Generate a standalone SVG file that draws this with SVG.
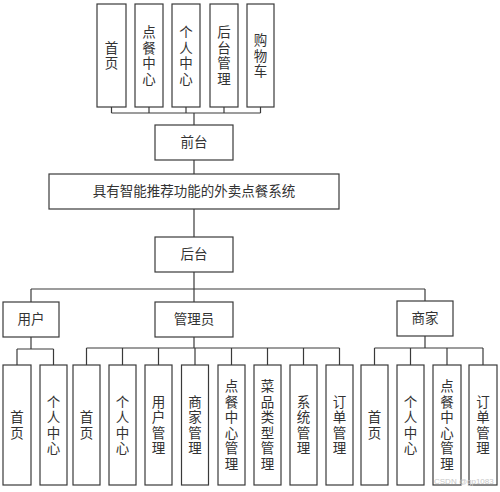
<svg xmlns="http://www.w3.org/2000/svg" width="500" height="492" viewBox="0 0 500 492">
<style>
rect{fill:#fff;stroke:#3a3a3a;stroke-width:1.2}
text{font-family:"Liberation Sans","Noto Sans CJK SC",sans-serif;font-size:13.5px;fill:#333;text-anchor:middle;dominant-baseline:central}
.c line{stroke:#3a3a3a;stroke-width:1.2;fill:none}
.wm{font-family:"Liberation Sans",sans-serif;font-size:8px;fill:#c8c8c8;text-anchor:start;dominant-baseline:auto}
</style>
<rect x="0" y="0" width="500" height="492" style="fill:#fff;stroke:none"/>
<g class="c" id="connectors">
<line x1="111.5" y1="107" x2="111.5" y2="113"/><line x1="149" y1="107" x2="149" y2="113"/><line x1="186" y1="107" x2="186" y2="113"/><line x1="224" y1="107" x2="224" y2="113"/><line x1="260.5" y1="107" x2="260.5" y2="113"/>
<line x1="111.5" y1="113" x2="260.5" y2="113"/>
<line x1="194" y1="113" x2="194" y2="125"/>
<line x1="194" y1="160" x2="194" y2="174"/>
<line x1="194" y1="209" x2="194" y2="237"/>
<line x1="194" y1="272" x2="194" y2="289"/>
<line x1="31" y1="289" x2="425" y2="289"/>
<line x1="31" y1="289" x2="31" y2="302"/><line x1="194" y1="289" x2="194" y2="302"/><line x1="425" y1="289" x2="425" y2="301"/>
<line x1="31" y1="337" x2="31" y2="349"/>
<line x1="17" y1="349" x2="53.5" y2="349"/>
<line x1="17" y1="349" x2="17" y2="365"/><line x1="53.5" y1="349" x2="53.5" y2="365"/>
<line x1="194" y1="337" x2="194" y2="348"/>
<line x1="86.5" y1="348" x2="339.5" y2="348"/>
<line x1="86.5" y1="348" x2="86.5" y2="365"/><line x1="122.5" y1="348" x2="122.5" y2="365"/><line x1="158.5" y1="348" x2="158.5" y2="365"/><line x1="195" y1="348" x2="195" y2="365"/><line x1="231.5" y1="348" x2="231.5" y2="365"/><line x1="267.5" y1="348" x2="267.5" y2="365"/><line x1="303.5" y1="348" x2="303.5" y2="365"/><line x1="339.5" y1="348" x2="339.5" y2="365"/>
<line x1="425" y1="336" x2="425" y2="348"/>
<line x1="374.5" y1="348" x2="483" y2="348"/>
<line x1="374.5" y1="348" x2="374.5" y2="365"/><line x1="410.5" y1="348" x2="410.5" y2="365"/><line x1="447" y1="348" x2="447" y2="365"/><line x1="483" y1="348" x2="483" y2="365"/>
</g>
<g id="t1"><rect x="97" y="4" width="29" height="103"/><text><tspan x="111.5" y="47.75">首</tspan><tspan x="111.5" y="63.25">页</tspan></text></g>
<g id="t2"><rect x="135" y="4" width="28" height="103"/><text><tspan x="149" y="32.25">点</tspan><tspan x="149" y="47.75">餐</tspan><tspan x="149" y="63.25">中</tspan><tspan x="149" y="78.75">心</tspan></text></g>
<g id="t3"><rect x="172" y="4" width="28" height="103"/><text><tspan x="186" y="32.25">个</tspan><tspan x="186" y="47.75">人</tspan><tspan x="186" y="63.25">中</tspan><tspan x="186" y="78.75">心</tspan></text></g>
<g id="t4"><rect x="210" y="4" width="28" height="103"/><text><tspan x="224" y="32.25">后</tspan><tspan x="224" y="47.75">台</tspan><tspan x="224" y="63.25">管</tspan><tspan x="224" y="78.75">理</tspan></text></g>
<g id="t5"><rect x="247" y="4" width="27" height="103"/><text><tspan x="260.5" y="40">购</tspan><tspan x="260.5" y="55.5">物</tspan><tspan x="260.5" y="71">车</tspan></text></g>
<g id="qiantai"><rect x="155" y="125" width="78" height="35"/><text x="194" y="142.5">前台</text></g>
<g id="system"><rect x="49" y="174" width="290" height="35"/><text x="194" y="191.5">具有智能推荐功能的外卖点餐系统</text></g>
<g id="houtai"><rect x="155" y="237" width="78" height="35"/><text x="194" y="254.5">后台</text></g>
<g id="yonghu"><rect x="3" y="302" width="56" height="35"/><text x="31" y="319.5">用户</text></g>
<g id="guanliyuan"><rect x="155" y="302" width="78" height="35"/><text x="194" y="319.5">管理员</text></g>
<g id="shangjia"><rect x="397" y="301" width="56" height="35"/><text x="425" y="318.5">商家</text></g>
<g id="u1"><rect x="3" y="365" width="28" height="120"/><text><tspan x="17" y="417.25">首</tspan><tspan x="17" y="432.75">页</tspan></text></g>
<g id="u2"><rect x="40" y="365" width="27" height="120"/><text><tspan x="53.5" y="401.75">个</tspan><tspan x="53.5" y="417.25">人</tspan><tspan x="53.5" y="432.75">中</tspan><tspan x="53.5" y="448.25">心</tspan></text></g>
<g id="a1"><rect x="73" y="365" width="27" height="120"/><text><tspan x="86.5" y="417.25">首</tspan><tspan x="86.5" y="432.75">页</tspan></text></g>
<g id="a2"><rect x="109" y="365" width="27" height="120"/><text><tspan x="122.5" y="401.75">个</tspan><tspan x="122.5" y="417.25">人</tspan><tspan x="122.5" y="432.75">中</tspan><tspan x="122.5" y="448.25">心</tspan></text></g>
<g id="a3"><rect x="145" y="365" width="27" height="120"/><text><tspan x="158.5" y="401.75">用</tspan><tspan x="158.5" y="417.25">户</tspan><tspan x="158.5" y="432.75">管</tspan><tspan x="158.5" y="448.25">理</tspan></text></g>
<g id="a4"><rect x="181.5" y="365" width="27" height="120"/><text><tspan x="195" y="401.75">商</tspan><tspan x="195" y="417.25">家</tspan><tspan x="195" y="432.75">管</tspan><tspan x="195" y="448.25">理</tspan></text></g>
<g id="a5"><rect x="218" y="365" width="27" height="120"/><text><tspan x="231.5" y="386.25">点</tspan><tspan x="231.5" y="401.75">餐</tspan><tspan x="231.5" y="417.25">中</tspan><tspan x="231.5" y="432.75">心</tspan><tspan x="231.5" y="448.25">管</tspan><tspan x="231.5" y="463.75">理</tspan></text></g>
<g id="a6"><rect x="254" y="365" width="27" height="120"/><text><tspan x="267.5" y="386.25">菜</tspan><tspan x="267.5" y="401.75">品</tspan><tspan x="267.5" y="417.25">类</tspan><tspan x="267.5" y="432.75">型</tspan><tspan x="267.5" y="448.25">管</tspan><tspan x="267.5" y="463.75">理</tspan></text></g>
<g id="a7"><rect x="290" y="365" width="27" height="120"/><text><tspan x="303.5" y="401.75">系</tspan><tspan x="303.5" y="417.25">统</tspan><tspan x="303.5" y="432.75">管</tspan><tspan x="303.5" y="448.25">理</tspan></text></g>
<g id="a8"><rect x="326" y="365" width="27" height="120"/><text><tspan x="339.5" y="401.75">订</tspan><tspan x="339.5" y="417.25">单</tspan><tspan x="339.5" y="432.75">管</tspan><tspan x="339.5" y="448.25">理</tspan></text></g>
<g id="s1"><rect x="361" y="365" width="27" height="120"/><text><tspan x="374.5" y="417.25">首</tspan><tspan x="374.5" y="432.75">页</tspan></text></g>
<g id="s2"><rect x="397" y="365" width="27" height="120"/><text><tspan x="410.5" y="401.75">个</tspan><tspan x="410.5" y="417.25">人</tspan><tspan x="410.5" y="432.75">中</tspan><tspan x="410.5" y="448.25">心</tspan></text></g>
<g id="s3"><rect x="433" y="365" width="28" height="120"/><text><tspan x="447" y="386.25">点</tspan><tspan x="447" y="401.75">餐</tspan><tspan x="447" y="417.25">中</tspan><tspan x="447" y="432.75">心</tspan><tspan x="447" y="448.25">管</tspan><tspan x="447" y="463.75">理</tspan></text></g>
<g id="s4"><rect x="469" y="365" width="28" height="120"/><text><tspan x="483" y="401.75">订</tspan><tspan x="483" y="417.25">单</tspan><tspan x="483" y="432.75">管</tspan><tspan x="483" y="448.25">理</tspan></text></g>
<text class="wm" x="434" y="484">CSDN @gp1083</text>
</svg>
